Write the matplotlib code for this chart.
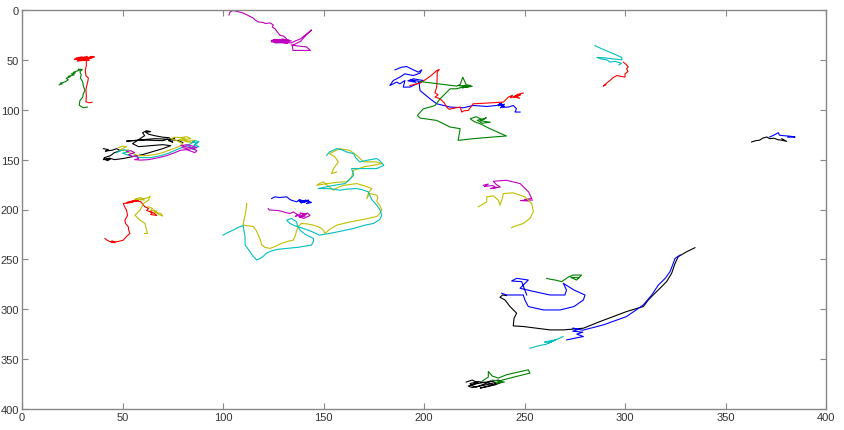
import matplotlib
matplotlib.use("Agg")
import matplotlib.pyplot as plt

# trajectories, (x, y) in image coordinates

# top area
mag_top = [(103,5),(103.5,2),(105,0.5),(107,1.5),(110,3),(112,5),(115,8),(116,10),(117.5,12),(120,12.5),
           (121,13.5),(123.5,13),(125,15),(124.5,17),(126,19),(127,22),(128.5,25.5),(130,26),(131,27.5),(132,30),
           (130,30.5),(125,30),(124,32),(129,31),(133,32.5),(126,33),(124,30.5),(131,29.5),(134,31),(128,32.5),
           (124.5,31.5),(130,29),(127,31.8),(132,33.5),(125.5,29.5),(133,30.5),(128,30.2),(126,32.2),
           (134,33),(136,31),(138.5,29),(141,25),(143.5,21),(144,20),(141,26),(138.5,31.5),(134.5,35.5),
           (134.8,40.5),(139,40.5),(143.5,40.5),(141.5,37),(137,36),(134,35)]
red_tl = [(27,48),(30,47),(28,49.5),(33,48),(35,46.5),(30,50),(27.5,51),(32,50),(34,48.5),(36,47),(29,48.5),
          (26,49.5),(31,47.5),(33.5,50.5),(28.5,50.8),(34.5,47.8),(30.5,48.8),(32.5,46.5),(27.5,49),
          (32.5,49),(32,52),(32,56),(31.5,60),(31.8,66),(33,68),(32.8,71),(32.2,76),(31.8,80),(32,86),
          (31.8,92),(33.5,93),(34.8,92.5)]
green_tl = [(18.5,75),(20,74),(19,73.5),(21.5,72),(23,70),(22,68.5),(24,67),(23,66.5),(26,65),(24.5,64),
            (26.5,63),(25.5,62.5),(27.5,61),(29,60),(28,59.5),(30,59.5),(28.8,62),(29.5,65),(29,68),(30.2,72),
            (30.5,76),(31.3,80.5),(30.5,84),(30.2,87.3),(28.8,91),(28.5,95.5),(30.5,98),(32.5,97.3)]

# left cluster
black_l = [(40.5,139),(43,140),(41.5,141.5),(45,140.5),(47,139),(49,141),(46,143),(44,146),(41,148),(40.5,150),
           (44,149.5),(42.5,151),(41,149.5),(43.5,148.5),(46,150),(50,149),(55,147),(60,145),(65,142),(70,139),
           (74,136),(70,135),(64,136),(58,137),(55,134),(58,130),(61,126),(60,123),(62,121),(64,122),(61.5,122.5),
           (63,124.5),(66,126),(70,127.5),(73,128),(75,130),(76,128),(73,131),(75,132.5),(72.5,129.5),
           (70,131),(62,130.5),(55,131),(52,131.5),(60,130),(66,129),(72,129.5),(78,131),(80,133)]
yel_l = [(48,138),(50,136.5),(52,137),(50,139),(48.5,140.5),(51,141),(53,140),(52,142.5),(55,144),(58,146),
         (62,146),(66,145),(70,143),(74,140),(78,137),(80,134),(77,131),(74,129),(76,127.5),(79,128),(82,127),
         (84,129),(80,130),(83,131.5),(86,130.5),(85,133),(82,132),(78,130),(81,128.5)]
cyan_l = [(47,143),(49,141),(51,140),(53,142),(50,143.5),(52,145),(55,146.5),(59,148),(64,148),(69,146),
          (73,143.5),(77,140),(80,137.5),(82,136),(84,134),(86,131),(88,132),(86,135),(88,137),(85,138.5),
          (83,137),(86,140),(84,139),(87,133.5),(85,132)]
mag_l = [(52,142),(54,141),(56,143),(53,145),(55,147),(57,146),(58,149),(56,150),(59,150.5),(63,150),(68,148),
         (72,146),(76,143),(79,140.5),(82,140),(84,141.5),(86,143),(87,141),(84,138),(81,137),(79,136),(82,135),
         (85,136.5),(87,138),(83,139.5),(80,138)]

# left-middle
red_lm = [(41.3,229),(42.5,231),(43.8,232.3),(45,231.5),(46.3,233.3),(44.5,233),(48,232),(50.4,230.7),(52,227),
          (53.7,224),(53,220),(52.9,217.3),(51.5,214),(51.2,210.7),(52.5,206),(52,200.7),(51,197),(50.4,194),
          (53,193.5),(55.4,192.3),(52,193),(57.9,190.7),(54,192),(56,191.5),(59,192),(61,197),(63,199),(62,201),
          (65,203),(64,205),(67,206),(66,204),(63.5,202)]
yel_lm = [(57.9,189),(56,190),(59,188),(61,190.5),(58,190.2),(63,188),(63.7,186.7),(62.9,190.7),(60.4,194),
          (58.7,200.7),(56.2,205.7),(58.7,210.7),(61.2,214),(62,220.7),(62.4,224),(61,224)]
yel_lm2 = [(62.7,197),(65,199),(64,201),(67,201.5),(66,203),(69,204),(70,206.5),(68,205),(65.5,200.5)]

# middle
yel_m = [(111.8,194),(111.5,200),(111,205.7),(110.5,210),(110,215.7),(113,216.5),(115,217),(116.5,221),
         (117.6,225.7),(118.5,230),(119.3,235.7),(121,238),(123.4,239),(126,237),(129,234),(132,232),(135,230.7),
         (136,226),(136.7,220.7),(137.5,217),(139,214),(142,214.5),(145,215.7),(147,217),(149,219),(150,221),
         (150.7,224),(153,220),(156.6,215.7),(162,213),(168,210.7),(172,209),(176.5,207),(178,204),(179,200.7),
         (178,196),(176.5,192),(177,188),(176.5,185.7),(173,184),(171.5,189),(172.5,183),(174,179),(170,176),
         (166.5,174),(163,175),(160,175.7),(157,178),(155,180.7),(152,176),(150,172.3),(148,174),(146.6,175.7),
         (152,174),(158,172.5),(161.5,172.3),(164,167.3),(165,160.7),(170,157.3),(175,155.5),(179,154),
         (176.5,152.3),(170,152.3),(166.5,145.7),(163,140.7),(158,139),(153,144),(155.7,147.3),(157.4,152.3),
         (155,159),(154,164),(156.6,162.3)]
cyan_m = [(100,225.7),(102.5,223),(105,220.7),(107.5,218),(110,216),(110.5,222),(111,228),(111,235.7),(113,241),
          (115,247),(116.8,250.7),(118.5,249),(120,247),(121.5,244),(123.4,242),(127,240),(131.7,239),(137,238),
          (144,235.7),(145,232),(145,229),(141,225),(138.3,220.7),(137,216),(136.6,212.3),(134,209),(131.7,210.7),
          (133.3,214),(136,216.5),(140,219),(144,222),(148,225.7),(153,224),(158,222),(165,219),(170,216),
          (174.8,214),(178,210),(179,205.7),(178,200),(176.5,195.7),(174,190),(172.3,182.3),(169,180),(166.5,179),
          (162,179.5),(158,180.7),(155,179.5),(151.6,179),(147.4,179),(152,177),(156,175.5),(160.7,174),(163,170),
          (165,165.7),(164,159),(170,159),(176.5,159),(180,155.7),(178,151),(176.5,149),(172,150.5),(168,152.3),
          (166,148),(165,144),(161.5,142.3),(159,140),(156.6,139),(153,142.3),(151.6,145.7)]
blue_m = [(124.2,189),(125.9,187.3),(128,188),(131.7,187.3),(133,189.5),(134,190.7),(136.7,192.3),(138,190),
          (140,191.5),(139,193.5),(141,190.5),(143,192),(141.5,194),(144,193),(142,191),(139,192),(137.5,191),
          (140.5,193),(142.5,190.5),(138.5,193)]
mag_m = [(122.5,199),(123,200.5),(125,200.7),(127,201),(129,201.7),(131,203),(133.3,204),(135,202.5),(137,205),
         (136,207),(139,204),(141,206.5),(138,208),(142,203.5),(143.3,206),(140,209),(137,206),(139.5,206),
         (141.5,204.5),(138.5,203.5)]

# top-middle cluster
blue_tm = [(185.6,60),(188.9,57.3),(191.4,56.7),(194.7,60),(197.2,62.3),(198.9,60),(198,63.3),(194.7,65.7),
           (190.5,64),(188,67.3),(184.7,70.7),(183,75.7),(186.4,72.3),(188,74),(190.5,70.7),(189.7,77.3),
           (193,77.3),(196.4,74),(199.7,70.7),(194.7,69),(192,71),(196,72.5),(193.5,70),(197.5,71.5),
           (198,80.7),(203,89),(206.3,94),(213,97.3),(219.6,98),(224.5,95.7),(231.2,96.7),(236.2,95.7),
           (238.7,93.3),(237,96),(240,94.5),(238,98),(240,96.5),(237.5,94),(239.5,97.5),(242,97.3),(244.4,95.7),
           (246,99),(245.3,102.3),(247.8,102.3)]
red_tm = [(193,75.7),(198,73.3),(201.3,69),(204,65),(206.3,60.7),(207.6,59.7),(206.6,62.3),(206.5,70),
          (206.3,77.3),(205.5,83),(207,85),(205.5,87.3),(208,89),(210,93),(211.3,97.3),(212.5,99.5),(213.8,99),
          (216,98),(218,97.3),(218.8,102.3),(220,101),(222,100.7),(224.5,94),(231.2,93.3),(239.5,92.3),
          (242,87.3),(244,85.5),(243,88),(246,86),(247.5,88.5),(245,87),(248,85),(244.5,87.5),(246.5,84.5),
          (249.4,83.3)]
green_tm = [(198,71.7),(207,74),(216.3,76.3),(218,74.5),(219.3,67.3),(220.4,72.3),(221,75),(224,76.5),
            (219,78),(222,77),(217.5,76),(223,75.5),(216,79),(213,79),(208,89),(205.5,95.7),(203,97.3),
            (199.7,99),(196.7,105.7),(198,108.3),(206.3,110.7),(213,117.3),(218,119),(217,130.7),(224.5,129),
            (234.5,127.3),(241,126.3),(232.8,119),(227.9,114),(225,112),(223,109),(226,107),(229,110),
            (231,108),(228,111),(233,112.5),(229,113.5),(226.5,110.5),(230,109)]

# top right
cyan_tr = [(285,35.7),(288,38.5),(291.5,41.5),(295,44.5),(298.3,47.5),(298.5,50),(294,49),(290,48),(286,47.5),
           (288,49),(291,50),(292.5,52.3),(295,51.5),(298.3,53.5),(297,55)]
red_tr = [(299.2,52.3),(300.5,54.5),(301.6,57),(300.8,59),(301.5,61.5),(300,64),(300,67.3),(298,66.5),
          (295.9,65.7),(294,68),(292.5,70.7),(291,73),(289.2,76.3),(290.5,75)]
black_r = [(363,132.3),(365,131),(367,130.5),(368.5,128.5),(370.5,127.3),(372,129),(374,128.5),(376,130),
           (378,130.5),(380.4,131.7),(378,129)]
blue_r = [(372,127.3),(374,125.5),(376.3,123),(376.8,125.5),(379,126),(382,126.5),(384.6,127.3),(381,127.5)]

# middle right
mag_mr = [(229.5,175.7),(232,174.5),(230,177),(234,176),(236,178),(233,179),(238,177.5),(236,175),(234.5,171.7),
          (241,170.7),(247.8,174),(252,182.3),(253.6,189),(250,190),(252,191.5),(248,191),(254,190.5)]
yel_mr = [(227,197.3),(231.2,192.3),(231.2,187.3),(234.5,186.3),(237,190.7),(237.8,195.7),(238.7,190.7),
          (239.5,184),(244.4,183.3),(250.2,187.3),(253.6,194),(254.4,202.3),(252.7,209),(249.4,214),(244.4,217.3),
          (243.6,218.3)]

# bottom right
black_br = [(334.8,238.3),(330.7,242.3),(326.5,247.3),(324.9,254),(323.2,264),(320.7,272.3),(317.4,279),
            (314,285.7),(311.6,290.7),(309.1,297.3),(300.8,302.3),(294.2,307.3),(287.6,312.3),(279.3,319),
            (269.3,320.7),(262.7,320.7),(256,319),(249.4,317.3),(244.4,316.7),(244.8,309),(246.1,304),
            (242.8,297.3),(240.3,290.7),(237.8,288),(239.1,285.7),(241.1,286.3)]
blue_br = [(238.7,284),(241.1,285.7),(249.4,285.7),(250.2,290.7),(251.9,297.3),(259.4,300.7),(267.7,300.7),
           (274.6,297.3),(279.3,290.7),(280.1,285.7),(274.6,280.7),(269.3,274),(270.9,280.7),(270.1,285.7),
           (262.7,285.7),(254.9,282.3),(247.8,279),(251.9,270.7),(246.1,269),(243.6,271.7),(248.6,272.3),
           (251.1,285.7)]
blue_br2 = [(271,330.7),(279.3,327.3),(276,325),(279,323),(274,322),(277,320),(274,319),(279,321),(289.2,315.7),
            (300.8,307.3),(309.1,295.7),(313.3,285.7),(316.6,275.7),(320,269),(322.4,262.3),(324,254),
            (324.9,249),(327.4,245.7)]
cyan_br = [(252.7,339),(257.7,336.3),(261,335),(262.7,332.3),(260,333),(264,331),(262,334),(265.2,330.7),
           (263,333),(269.3,327.3)]
green_br = [(261,269),(263,270),(265.2,270.7),(268.5,272.3),(270.9,269),(272,267.5),(274.2,265.7),(278.4,265.7),
            (275.9,270.7),(273,268),(277,268.5)]
black_b = [(221,373),(224,371),(227,374),(223,376),(226,378),(230,375),(233,372),(236,374),(232,377),(228,379),
           (235,376),(239,373),(237,371),(231,373),(225,375),(222,377),(224,378.5),(229,376.5),(234,374.5),
           (227,372.5),(223,374.5)]
green_b = [(229,372),(232,368),(232,362.3),(234,367),(237,369),(241,365.7),(251.9,360.7),(252.7,364),(242.8,369),
           (239,371),(236,374),(240,373),(234,371)]

tracks = [
    (mag_top, "m"), (red_tl, "r"), (green_tl, "g"),
    (black_l, "k"), (yel_l, "y"), (cyan_l, "c"), (mag_l, "m"),
    (red_lm, "r"), (yel_lm, "y"), (yel_lm2, "y"),
    (yel_m, "y"), (cyan_m, "c"), (blue_m, "b"), (mag_m, "m"),
    (blue_tm, "b"), (red_tm, "r"), (green_tm, "g"),
    (cyan_tr, "c"), (red_tr, "r"), (black_r, "k"), (blue_r, "b"),
    (mag_mr, "m"), (yel_mr, "y"),
    (black_br, "k"), (blue_br, "b"), (blue_br2, "b"), (cyan_br, "c"), (green_br, "g"),
    (black_b, "k"), (green_b, "g"),
]

colors = {"b": (0, 0, 1), "g": (0, 0.5, 0), "r": (1, 0, 0), "c": (0, 0.75, 0.75),
          "m": (0.75, 0, 0.75), "y": (0.75, 0.75, 0), "k": (0, 0, 0)}

plt.rcParams["font.family"] = ["Liberation Sans Narrow", "Liberation Sans", "DejaVu Sans"]

fig = plt.figure(figsize=(8.44, 4.31), dpi=100)
ax = fig.add_axes([22/844, 21/431, 804/844, 399/431])

for pts, c in tracks:
    xs = [p[0] for p in pts]
    ys = [p[1] for p in pts]
    ax.plot(xs, ys, color=colors[c], lw=0.8)

ax.set_xlim(0, 400)
ax.set_ylim(400, 0)
ax.set_xticks(range(0, 401, 50))
ax.set_yticks(range(0, 401, 50))
ax.tick_params(direction="in", top=True, right=True, length=4, width=0.8,
               color="#888888", labelsize=8, labelcolor="#333333", pad=2)
for s in ax.spines.values():
    s.set_color("#888888")
    s.set_linewidth(1)

fig.savefig("out.png", dpi=100)
